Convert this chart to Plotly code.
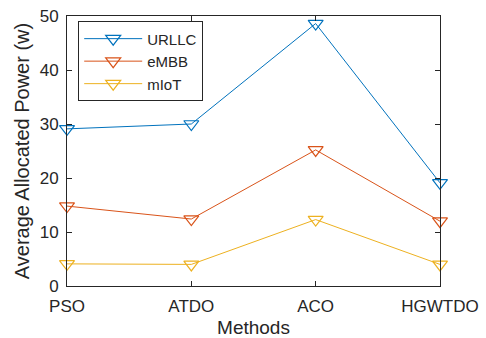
import plotly.graph_objects as go

methods = ["PSO", "ATDO", "ACO", "HGWTDO"]
urllc = [29.1, 30.0, 48.6, 19.1]
embb = [14.8, 12.4, 25.2, 12.0]
miot = [4.1, 4.0, 12.3, 4.0]
y_ticks = [0, 10, 20, 30, 40, 50]

colors = ["#0072BD", "#D95319", "#EDB120"]
names = ["URLLC", "eMBB", "mIoT"]
series = [urllc, embb, miot]

fig = go.Figure()
for name, vals, c in zip(names, series, colors):
    fig.add_trace(go.Scatter(
        x=list(range(len(methods))), y=vals, name=name, mode="lines+markers",
        line=dict(color=c, width=1), cliponaxis=False,
        marker=dict(symbol="triangle-down-open", size=13, color=c, line=dict(width=1.2, color=c)),
    ))

tick_font = dict(family="Liberation Sans, Arial", size=17, color="#262626")
fig.update_layout(
    width=486, height=338,
    margin=dict(l=67, r=46, t=16, b=52),
    paper_bgcolor="white", plot_bgcolor="white",
    font=tick_font,
    showlegend=True,
    legend=dict(x=0.03, y=0.98, xanchor="left", yanchor="top",
                bgcolor="white", bordercolor="#262626", borderwidth=1,
                font=dict(family="Liberation Sans, Arial", size=15, color="#262626"),
                tracegroupgap=0, itemwidth=58),
)
fig.update_xaxes(
    range=[0, 3], tickvals=list(range(len(methods))), ticktext=methods,
    showline=True, linecolor="#262626", linewidth=1, mirror="ticks",
    ticks="inside", ticklen=5, tickcolor="#262626", showgrid=False, zeroline=False,
    ticklabelstandoff=5, automargin=False,
    title=dict(text="Methods", font=dict(family="Liberation Sans, Arial", size=19, color="#262626"), standoff=8),
)
fig.update_yaxes(
    range=[0, 50], tickvals=y_ticks,
    showline=True, linecolor="#262626", linewidth=1, mirror="ticks",
    ticks="inside", ticklen=5, tickcolor="#262626", showgrid=False, zeroline=False,
    ticklabelstandoff=4, automargin=False,
    title=dict(text="Average Allocated Power (w)", font=dict(family="Liberation Sans, Arial", size=20, color="#262626"), standoff=4),
)
fig.write_html("out.html")
